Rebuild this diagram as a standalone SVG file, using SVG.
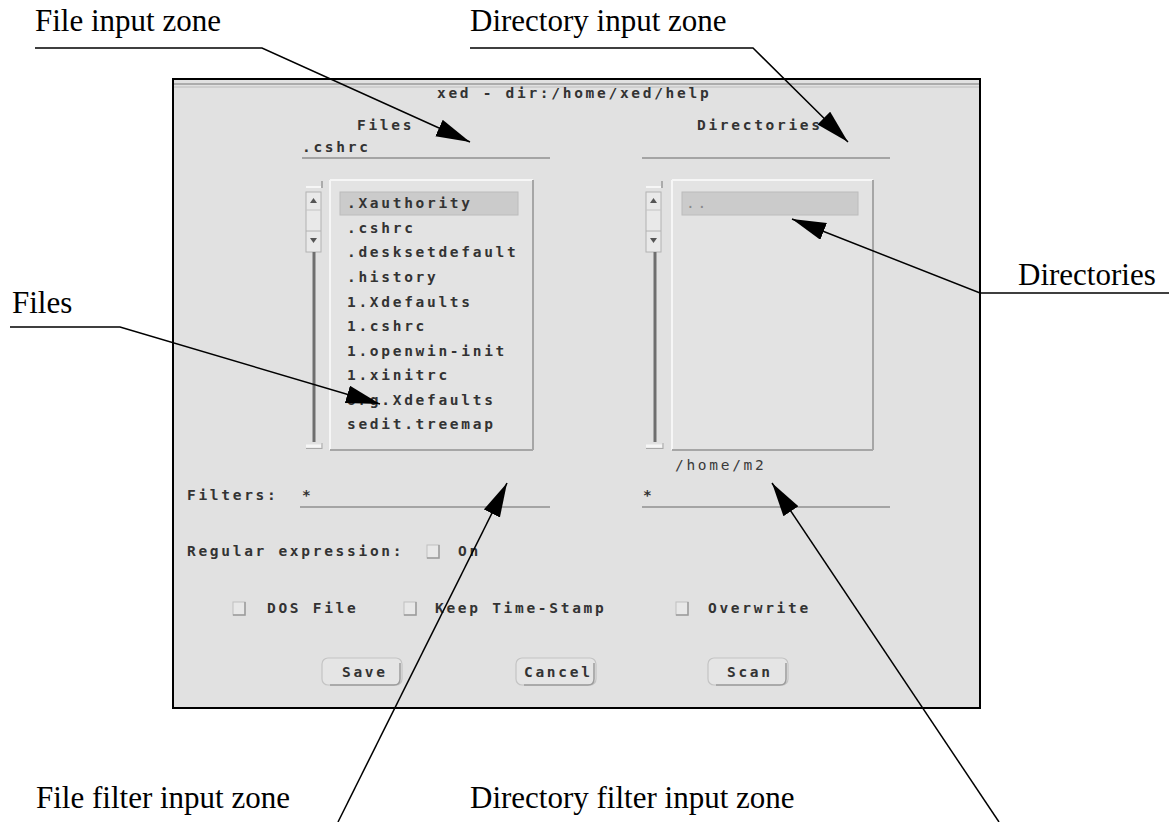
<svg xmlns="http://www.w3.org/2000/svg" width="1169" height="822" viewBox="0 0 1169 822">
<defs>
<marker id="ah" markerUnits="userSpaceOnUse" markerWidth="36" markerHeight="20" refX="34" refY="9" orient="auto">
<path d="M0,0 L34,9 L0,18 Z" fill="#000"/>
</marker>
<style>
.lbl{font-family:"Liberation Serif","Times New Roman",serif;font-size:31px;fill:#000}
.ui{font-family:"DejaVu Sans Mono",monospace;font-weight:bold;font-size:14.5px;letter-spacing:2.7px;fill:#333}
.uin{font-family:"DejaVu Sans Mono",monospace;font-size:14.5px;letter-spacing:2.7px;fill:#3a3a3a}
.uline{stroke:#a4a4a4;stroke-width:2;fill:none}
.lead{stroke:#000;stroke-width:1.5;fill:none}
.hl{fill:#cbcbcb;stroke:#bcbcbc;stroke-width:1}
.chk{fill:#e8e8e8;stroke:#c0c0c0;stroke-width:1}
.btn{fill:#e5e5e5;stroke:#c4c4c4;stroke-width:1.2}
.sh{stroke:#9c9c9c;stroke-width:1.5;fill:none}
.lite{stroke:#f6f6f6;stroke-width:2}
.dark{stroke:#a6a6a6;stroke-width:2}
</style>
</defs>
<rect width="1169" height="822" fill="#fff"/>

<g id="window">
<rect x="173" y="79" width="807" height="629" fill="#e1e1e1" stroke="#000" stroke-width="2"/>
<line x1="174" y1="84" x2="979" y2="84" stroke="#9a9a9a" stroke-width="1.5"/>
<line x1="174" y1="87" x2="979" y2="87" stroke="#bcbcbc" stroke-width="1"/>
<text class="ui" x="437" y="98">xed - dir:/home/xed/help</text>
</g>

<g id="file-input">
<text class="ui" x="357" y="130">Files</text>
<text class="ui" x="302" y="152">.cshrc</text>
<line class="uline" x1="302" y1="158" x2="550" y2="158"/>
</g>

<g id="dir-input">
<text class="ui" x="697" y="130">Directories</text>
<line class="uline" x1="642" y1="158" x2="890" y2="158"/>
</g>

<g id="file-scrollbar">
<line x1="306" y1="187" x2="321" y2="187" class="lite"/>
<line x1="322" y1="181" x2="322" y2="188" stroke="#999" stroke-width="1.5"/>
<rect x="306" y="192" width="15" height="60" fill="#e9e9e9" stroke="#b2b2b2"/>
<line x1="306" y1="210" x2="321" y2="210" stroke="#c4c4c4"/>
<line x1="306" y1="231" x2="321" y2="231" stroke="#b2b2b2"/>
<path d="M310,203 L313.5,198 L317,203 Z" fill="#555"/>
<path d="M310,238 L313.5,243 L317,238 Z" fill="#555"/>
<line x1="314" y1="252" x2="314" y2="442" stroke="#6e6e6e" stroke-width="3"/>
<line x1="306" y1="446" x2="321" y2="446" stroke="#f6f6f6" stroke-width="3"/>
<line x1="306" y1="448.5" x2="322" y2="448.5" stroke="#a8a8a8" stroke-width="1"/>
<line x1="322" y1="443" x2="322" y2="449" stroke="#a8a8a8" stroke-width="1"/>
</g>

<g id="file-list">
<rect x="330" y="180" width="203" height="270" fill="#e3e3e3"/>
<line x1="330" y1="180" x2="533" y2="180" class="lite"/>
<line x1="330" y1="180" x2="330" y2="450" class="lite"/>
<line x1="533" y1="180" x2="533" y2="450" class="dark"/>
<line x1="330" y1="450" x2="533" y2="450" class="dark"/>
<rect class="hl" x="340" y="192" width="178" height="23"/>
<text class="ui" x="347" y="208">.Xauthority</text>
<text class="ui" x="347" y="233">.cshrc</text>
<text class="ui" x="347" y="257">.desksetdefault</text>
<text class="ui" x="347" y="282">.history</text>
<text class="ui" x="347" y="307">1.Xdefaults</text>
<text class="ui" x="347" y="331">1.cshrc</text>
<text class="ui" x="347" y="356">1.openwin-init</text>
<text class="ui" x="347" y="380">1.xinitrc</text>
<text class="ui" x="347" y="405">org.Xdefaults</text>
<text class="ui" x="347" y="429">sedit.treemap</text>
</g>

<g id="dir-scrollbar">
<line x1="646" y1="187" x2="661" y2="187" class="lite"/>
<line x1="662" y1="181" x2="662" y2="188" stroke="#999" stroke-width="1.5"/>
<rect x="646" y="192" width="15" height="60" fill="#e9e9e9" stroke="#b2b2b2"/>
<line x1="646" y1="210" x2="661" y2="210" stroke="#c4c4c4"/>
<line x1="646" y1="231" x2="661" y2="231" stroke="#b2b2b2"/>
<path d="M650,203 L653.5,198 L657,203 Z" fill="#555"/>
<path d="M650,238 L653.5,243 L657,238 Z" fill="#555"/>
<line x1="655" y1="252" x2="655" y2="442" stroke="#6e6e6e" stroke-width="3"/>
<line x1="646" y1="446" x2="662" y2="446" stroke="#f6f6f6" stroke-width="3"/>
<line x1="646" y1="448.5" x2="663" y2="448.5" stroke="#a8a8a8" stroke-width="1"/>
<line x1="663" y1="443" x2="663" y2="449" stroke="#a8a8a8" stroke-width="1"/>
</g>

<g id="dir-list">
<rect x="672" y="180" width="201" height="270" fill="#e3e3e3"/>
<line x1="672" y1="180" x2="873" y2="180" class="lite"/>
<line x1="672" y1="180" x2="672" y2="450" class="lite"/>
<line x1="873" y1="180" x2="873" y2="450" class="dark"/>
<line x1="672" y1="450" x2="873" y2="450" class="dark"/>
<rect class="hl" x="682" y="192" width="176" height="23"/>
<text class="uin" x="686" y="208" style="fill:#8a8a8a">..</text>
<text class="uin" x="675" y="470">/home/m2</text>
</g>

<g id="filters">
<text class="ui" x="187" y="500">Filters:</text>
<text class="ui" x="302" y="500">*</text>
<line class="uline" x1="300" y1="507" x2="550" y2="507"/>
<text class="ui" x="643" y="500">*</text>
<line class="uline" x1="642" y1="507" x2="890" y2="507"/>
</g>

<g id="regex">
<text class="ui" x="187" y="556">Regular expression:</text>
<rect class="chk" x="427" y="545" width="12" height="13"/>
<polyline class="sh" points="439,545 439,558 427,558"/>
<text class="ui" x="458" y="556">On</text>
</g>

<g id="options">
<rect class="chk" x="233" y="602" width="12" height="13"/>
<polyline class="sh" points="245,602 245,615 233,615"/>
<text class="ui" x="267" y="613">DOS File</text>
<rect class="chk" x="404" y="602" width="12" height="13"/>
<polyline class="sh" points="416,602 416,615 404,615"/>
<text class="ui" x="435" y="613">Keep Time-Stamp</text>
<rect class="chk" x="676" y="602" width="12" height="13"/>
<polyline class="sh" points="688,602 688,615 676,615"/>
<text class="ui" x="708" y="613">Overwrite</text>
</g>

<g id="buttons">
<rect class="btn" x="322" y="658" width="80" height="27" rx="6"/>
<path class="sh" d="M400,663 L400,679 Q400,685 394,685 L330,685"/>
<text class="ui" x="342" y="677">Save</text>
<rect class="btn" x="516" y="658" width="80" height="27" rx="6"/>
<path class="sh" d="M594,663 L594,679 Q594,685 588,685 L524,685"/>
<text class="ui" x="524" y="677">Cancel</text>
<rect class="btn" x="708" y="658" width="80" height="27" rx="6"/>
<path class="sh" d="M786,663 L786,679 Q786,685 780,685 L716,685"/>
<text class="ui" x="727" y="677">Scan</text>
</g>

<g id="labels">
<text class="lbl" x="35" y="31">File input zone</text>
<text class="lbl" x="470" y="31">Directory input zone</text>
<text class="lbl" x="12" y="313">Files</text>
<text class="lbl" x="1018" y="285">Directories</text>
<text class="lbl" x="36" y="808">File filter input zone</text>
<text class="lbl" x="470" y="808">Directory filter input zone</text>
</g>

<g id="connectors">
<polyline class="lead" points="35,48 262,48 470,142" marker-end="url(#ah)"/>
<polyline class="lead" points="470,48 753,48 848,142" marker-end="url(#ah)"/>
<polyline class="lead" points="1169,293 980,293 792,219" marker-end="url(#ah)"/>
<polyline class="lead" points="10,327 120,327 380,404" marker-end="url(#ah)"/>
<line class="lead" x1="338" y1="822" x2="507" y2="483" marker-end="url(#ah)"/>
<line class="lead" x1="999" y1="822" x2="772" y2="483" marker-end="url(#ah)"/>
</g>
</svg>
